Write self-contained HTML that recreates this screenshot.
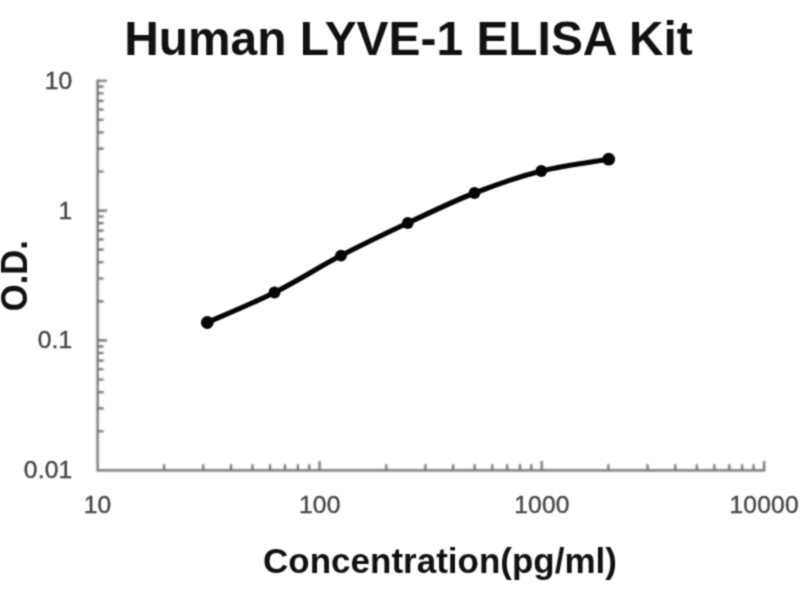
<!DOCTYPE html>
<html><head><meta charset="utf-8"><title>Human LYVE-1 ELISA Kit</title>
<style>
html,body{margin:0;padding:0;background:#fff;}
body{width:800px;height:600px;overflow:hidden;font-family:"Liberation Sans",sans-serif;}
svg{display:block;}
text{font-family:"Liberation Sans",sans-serif;}
.tk{font-size:24.6px;letter-spacing:0.2px;fill:#464646;stroke:#464646;stroke-width:0.4px;}
.ti{font-size:47.9px;font-weight:bold;fill:#111;}
.xl{font-size:35px;font-weight:bold;fill:#111;}
.yl{font-size:34.5px;font-weight:bold;fill:#111;}
</style></head><body>
<svg width="800" height="600" viewBox="0 0 800 600">
<defs><filter id="soft" x="0" y="0" width="800" height="600" filterUnits="userSpaceOnUse" color-interpolation-filters="sRGB"><feConvolveMatrix order="3" kernelMatrix="0.1299 0.3604 0.1299 0.3604 1.0000 0.3604 0.1299 0.3604 0.1299" divisor="2.9615" edgeMode="none" preserveAlpha="false"/></filter><filter id="soft2" x="0" y="0" width="800" height="600" filterUnits="userSpaceOnUse" color-interpolation-filters="sRGB"><feConvolveMatrix order="3" kernelMatrix="0.1299 0.3604 0.1299 0.3604 1.0000 0.3604 0.1299 0.3604 0.1299" divisor="2.9615" edgeMode="none" preserveAlpha="false"/></filter></defs>
<rect width="800" height="600" fill="#ffffff"/>
<g filter="url(#soft)">
<g filter="url(#soft2)">
<path d="M97.6 79.5 V470.3 H765.3000000000001" fill="none" stroke="#6c6c6c" stroke-width="2.15"/>
<path d="M164.08 470.3 v-6.0 M97.6 431.21 h6.0 M203.20 470.3 v-6.0 M97.6 408.34 h6.0 M230.96 470.3 v-6.0 M97.6 392.11 h6.0 M252.49 470.3 v-6.0 M97.6 379.53 h6.0 M270.08 470.3 v-6.0 M97.6 369.24 h6.0 M284.95 470.3 v-6.0 M97.6 360.55 h6.0 M297.84 470.3 v-6.0 M97.6 353.02 h6.0 M309.20 470.3 v-6.0 M97.6 346.38 h6.0 M319.57 470.3 v-9.4 M97.6 340.43 h9.4 M386.25 470.3 v-6.0 M97.6 301.34 h6.0 M425.37 470.3 v-6.0 M97.6 278.47 h6.0 M453.12 470.3 v-6.0 M97.6 262.25 h6.0 M474.65 470.3 v-6.0 M97.6 249.66 h6.0 M492.25 470.3 v-6.0 M97.6 239.38 h6.0 M507.12 470.3 v-6.0 M97.6 230.68 h6.0 M520.00 470.3 v-6.0 M97.6 223.15 h6.0 M531.37 470.3 v-6.0 M97.6 216.51 h6.0 M541.73 470.3 v-9.4 M97.6 210.57 h9.4 M608.41 470.3 v-6.0 M97.6 171.47 h6.0 M647.53 470.3 v-6.0 M97.6 148.60 h6.0 M675.29 470.3 v-6.0 M97.6 132.38 h6.0 M696.82 470.3 v-6.0 M97.6 119.79 h6.0 M714.41 470.3 v-6.0 M97.6 109.51 h6.0 M729.29 470.3 v-6.0 M97.6 100.82 h6.0 M742.17 470.3 v-6.0 M97.6 93.29 h6.0 M753.53 470.3 v-6.0 M97.6 86.64 h6.0 M764.10 470.3 v-9.4 M97.6 80.70 h9.4" fill="none" stroke="#6c6c6c" stroke-width="2.15"/>
</g>
<path d="M207.3 322.5 C218.50 317.50 252.22 303.65 274.5 292.5 C296.78 281.35 318.78 267.18 341.0 255.6 C363.22 244.02 385.55 233.43 407.8 223.0 C430.05 212.57 452.25 201.67 474.5 193.0 C496.75 184.33 518.93 176.63 541.3 171.0 C563.67 165.37 597.47 161.17 608.7 159.2" fill="none" stroke="#050505" stroke-width="5.1" stroke-linecap="round"/>
<circle cx="207.3" cy="322.5" r="6.4" fill="#050505"/>
<circle cx="274.5" cy="292.5" r="5.9" fill="#050505"/>
<circle cx="341.0" cy="255.6" r="5.9" fill="#050505"/>
<circle cx="407.8" cy="223.0" r="5.9" fill="#050505"/>
<circle cx="474.5" cy="193.0" r="5.9" fill="#050505"/>
<circle cx="541.3" cy="171.0" r="5.9" fill="#050505"/>
<circle cx="608.7" cy="159.2" r="6.4" fill="#050505"/>
<text x="97.6" y="512.7" text-anchor="middle" class="tk">10</text>
<text x="319.8" y="512.7" text-anchor="middle" class="tk">100</text>
<text x="541.9" y="512.7" text-anchor="middle" class="tk">1000</text>
<text x="764.1" y="512.7" text-anchor="middle" class="tk">10000</text>
<text x="72.5" y="478.2" text-anchor="end" class="tk">0.01</text>
<text x="72.5" y="348.3" text-anchor="end" class="tk">0.1</text>
<text x="72.5" y="218.5" text-anchor="end" class="tk">1</text>
<text x="72.5" y="88.6" text-anchor="end" class="tk">10</text>
<text x="408.5" y="55" text-anchor="middle" class="ti">Human LYVE-1 ELISA Kit</text>
<text x="440" y="572.5" text-anchor="middle" class="xl">Concentration(pg/ml)</text>
<text transform="translate(27.3 275.7) rotate(-90) scale(1 1.05)" text-anchor="middle" class="yl">O.D.</text>
</g>
</svg>
</body></html>
